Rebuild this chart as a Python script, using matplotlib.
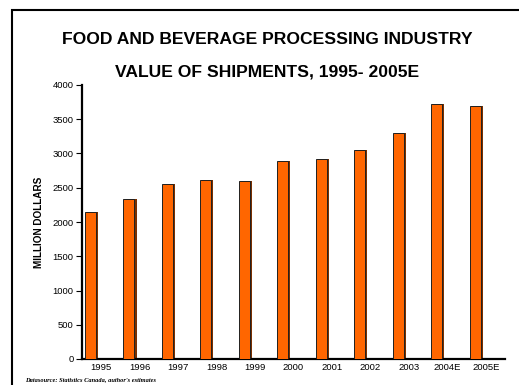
import matplotlib.pyplot as plt
from matplotlib.patches import Rectangle
import matplotlib.transforms as mtransforms

years = ['1995', '1996', '1997', '1998', '1999', '2000',
         '2001', '2002', '2003', '2004E', '2005E']
shipments = [2150, 2330, 2560, 2610, 2600, 2885, 2920, 3055, 3295, 3720, 3690]

plt.rcParams['font.family'] = ['Liberation Sans', 'DejaVu Sans']

fig = plt.figure(figsize=(5.19, 3.85), dpi=100)

# outer frame (runs off the right and bottom edges)
fig.patches.append(Rectangle((12 / 519, -0.1), 1.2, (385 - 10) / 385 + 0.1,
                             transform=fig.transFigure, fill=False,
                             edgecolor='black', linewidth=1.5))

ax = fig.add_axes([82 / 519, 26 / 385, 423 / 519, 274 / 385])

x = range(len(years))
lefts = [i - 0.422 for i in x]
# drop shadow on the right side of each bar
shadow = mtransforms.offset_copy(ax.transData, fig=fig, x=1.5, y=0, units='points')
ax.bar(lefts, shipments, width=0.286, align='edge', color='#7a3000',
       linewidth=0, transform=shadow, zorder=2)
ax.bar(lefts, shipments, width=0.286, align='edge', color='#ff6600',
       edgecolor='#202020', linewidth=0.7, zorder=3)

ax.set_xlim(-0.5, 10.5)
ax.set_ylim(0, 4000)
ax.set_yticks(range(0, 4001, 500))
ax.set_xticks(list(x))
ax.set_xticklabels(years)
ax.tick_params(axis='x', length=0, labelsize=6.8, pad=3)
ax.tick_params(axis='y', length=4, width=0.8, labelsize=6.8, pad=2)

ax.spines['right'].set_visible(False)
ax.spines['top'].set_visible(False)
ax.spines['left'].set_linewidth(1.6)
ax.spines['bottom'].set_linewidth(1.6)

ax.set_ylabel('MILLION DOLLARS', fontsize=7.2, fontweight='bold', labelpad=6)

fig.text(267 / 519, (385 - 40) / 385, 'FOOD AND BEVERAGE PROCESSING INDUSTRY',
         ha='center', va='center', fontsize=12.6, fontweight='bold')
fig.text(267 / 519, (385 - 72) / 385, 'VALUE OF SHIPMENTS, 1995- 2005E',
         ha='center', va='center', fontsize=12.6, fontweight='bold')

fig.text(25 / 519, 4 / 385, "Datasource: Statistics Canada, author's estimates",
         fontsize=4.6, fontweight='bold', style='italic',
         family=['Liberation Serif', 'DejaVu Serif'])

fig.savefig('out.png', dpi=100)
